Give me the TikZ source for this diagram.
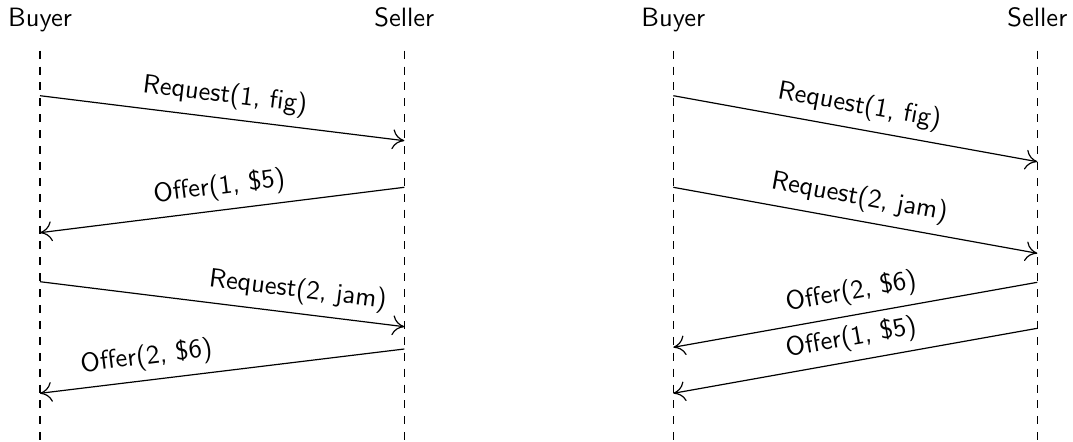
\documentclass[tikz,border=0pt]{standalone}
\usetikzlibrary{arrows.meta}
\begin{document}
\begin{tikzpicture}[x=0.3774pt,y=-0.3774pt,
  font=\sffamily,
  head/.style={anchor=base},
  life/.style={dashed,line width=0.45pt},
  msg/.style={line width=0.45pt,-{To[length=4.5pt,width=7.5pt]}},
  lbl/.style={sloped,above}]
\useasboundingbox (0,0) rectangle (1073,441);
% ---- left diagram ----
\node[head] (b1) at (40,26.7) {Buyer};
\node[head] (s1) at (404.3,26.7) {Seller};
\coordinate (b1top) at (40,50.7);  \coordinate (b1bot) at (40,441);
\coordinate (s1top) at (404.3,50.7); \coordinate (s1bot) at (404.3,441);
\draw[life] (b1top) -- (b1bot);
\draw[life] (s1top) -- (s1bot);
\coordinate (l1a) at (40,95.7);    \coordinate (l1b) at (404.3,140.7);
\coordinate (l2a) at (404.3,187.3); \coordinate (l2b) at (40,232.7);
\coordinate (l3a) at (40,281.7);   \coordinate (l3b) at (404.3,326.7);
\coordinate (l4a) at (404.3,349);  \coordinate (l4b) at (40,393.3);
\draw[msg] (l1a) -- node[lbl] (t1) {Request(1, fig)} (l1b);
\draw[msg] (l2a) -- node[lbl] (t2) {Offer(1, \$5)} (l2b);
\draw[msg] (l3a) -- node[lbl,pos=0.7] (t3) {Request(2, jam)} (l3b);
\draw[msg] (l4a) -- node[lbl,pos=0.7] (t4) {Offer(2, \$6)} (l4b);
% ---- right diagram ----
\node[head] (b2) at (673.3,26.7) {Buyer};
\node[head] (s2) at (1037.3,26.7) {Seller};
\coordinate (b2top) at (673.3,50.7);  \coordinate (b2bot) at (673.3,441);
\coordinate (s2top) at (1037.3,50.7); \coordinate (s2bot) at (1037.3,441);
\draw[life] (b2top) -- (b2bot);
\draw[life] (s2top) -- (s2bot);
\coordinate (r1a) at (673.3,95.7);   \coordinate (r1b) at (1037.3,161.7);
\coordinate (r2a) at (673.3,187.3);  \coordinate (r2b) at (1037.3,253.3);
\coordinate (r3a) at (1037.3,282.3); \coordinate (r3b) at (673.3,347.3);
\coordinate (r4a) at (1037.3,328.3); \coordinate (r4b) at (673.3,393.3);
\draw[msg] (r1a) -- node[lbl] (u1) {Request(1, fig)} (r1b);
\draw[msg] (r2a) -- node[lbl] (u2) {Request(2, jam)} (r2b);
\draw[msg] (r3a) -- node[lbl] (u3) {Offer(2, \$6)} (r3b);
\draw[msg] (r4a) -- node[lbl] (u4) {Offer(1, \$5)} (r4b);
\end{tikzpicture}
\end{document}
